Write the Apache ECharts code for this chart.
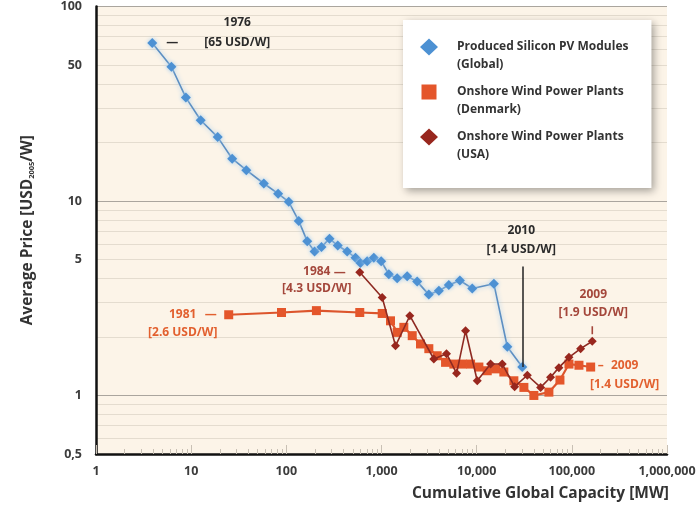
<!DOCTYPE html>
<html>
<head>
<meta charset="utf-8">
<script src="https://cdn.jsdelivr.net/npm/echarts@6/dist/echarts.min.js"></script>
<style>
  html, body { margin: 0; padding: 0; background: #fff; }
  #chart { width: 699px; height: 508px; }
</style>
</head>
<body>
<div id="chart"></div>
<script>
// cumulative capacity [MW] and price [USD2005/W]
const pvCapacity = [3.9, 6.2, 8.8, 12.6, 19, 27, 38, 58, 82, 106, 135, 166, 198, 234, 284, 347, 436, 533, 601, 707, 830, 993, 1194, 1462, 1863, 2373, 3143, 4005, 5100, 6660, 8990, 15170, 20980, 30140]
const pvPrice = [65, 49, 34, 26, 21.3, 16.5, 14.4, 12.3, 10.9, 9.9, 7.9, 6.2, 5.5, 5.8, 6.4, 5.9, 5.5, 5.1, 4.8, 4.9, 5.1, 4.9, 4.2, 4.0, 4.1, 3.85, 3.3, 3.45, 3.7, 3.9, 3.55, 3.75, 1.78, 1.4]

const dkCapacity = [24.8, 89, 207, 591, 1017, 1244, 1462, 1716, 2103, 2570, 3143, 3850, 4710, 5755, 7050, 8630, 10550, 12920, 15800, 19300, 24600, 31350, 39900, 57400, 75000, 93300, 118800, 157700]
const dkPrice = [2.6, 2.67, 2.73, 2.67, 2.64, 2.42, 2.11, 2.24, 2.03, 1.84, 1.74, 1.6, 1.48, 1.45, 1.45, 1.45, 1.4, 1.34, 1.37, 1.32, 1.19, 1.1, 1.0, 1.04, 1.2, 1.45, 1.43, 1.4]

const usCapacity = [591, 1017, 1404, 1985, 3548, 4820, 6150, 7640, 10140, 14000, 18580, 25050, 34040, 47000, 59800, 73100, 93300, 123700, 164000]
const usPrice = [4.3, 3.19, 1.8, 2.57, 1.54, 1.64, 1.3, 2.15, 1.19, 1.45, 1.45, 1.11, 1.27, 1.1, 1.24, 1.39, 1.57, 1.74, 1.9]

const legendLabels = {
  pv: 'Produced Silicon PV Modules\n(Global)',
  dk: 'Onshore Wind Power Plants\n(Denmark)',
  us: 'Onshore Wind Power Plants\n(USA)'
}

// axis ticks
const xDecades = [1, 10, 100, 1000, 10000, 100000, 1000000]
const minorSteps = [2, 3, 4, 5, 6, 7, 8, 9]
const yLabels = [0.5, 1, 5, 10, 50, 100]
const yGridLines = [0.5, 0.6, 0.7, 0.8, 0.9, 1, 2, 3, 4, 5, 6, 7, 8, 9, 10, 20, 30, 40, 50, 60, 70, 80, 90, 100]
const yMajor = [1, 10, 100]

const xMinor = []
xDecades.slice(0, -1).forEach(d => minorSteps.forEach(s => xMinor.push(d * s)))

const FONT = 'Open Sans'
const pair = (xs, ys) => xs.map((x, i) => [x, ys[i]])

// legend icons: symbol on the first text line, invisible corner dots fix the box
const corner = ' M0,0 L0.01,0 L0,0.01 Z M32,34 L31.99,34 L32,33.99 Z'
const diamondIcon = 'path://M9,0 L18,8.5 L9,17 L0,8.5 Z' + corner
const squareIcon = 'path://M1.5,1 L16.5,1 L16.5,16 L1.5,16 Z' + corner

const annot = (coord, offset, text, color, lh, rich) => ({
  coord: coord,
  symbolSize: 0,
  label: {
    show: true, position: 'inside', offset: offset, formatter: text,
    color: color, fontFamily: FONT, fontSize: 12, fontWeight: 'bold',
    lineHeight: lh || 19, align: 'center', verticalAlign: 'middle',
    rich: rich || {}
  }
})

const C_DARK = '#2b2b2b'
const C_US = '#a4473b'
const C_DK = '#e2602f'

const chart = echarts.init(document.getElementById('chart'))

const option = {
  animation: false,
  backgroundColor: '#fff',
  grid: {
    left: 96, right: 32, top: 5, bottom: 54,
    show: true, backgroundColor: '#fcf4e8', borderWidth: 0
  },
  legend: {
    orient: 'vertical',
    left: 403, top: 20,
    backgroundColor: '#fff',
    padding: [18, 23, 25, 17],
    itemGap: 10,
    itemWidth: 32, itemHeight: 34,
    shadowColor: 'rgba(0,0,0,0.35)', shadowBlur: 8, shadowOffsetX: 3, shadowOffsetY: 3,
    itemStyle: { borderWidth: 0 },
    textStyle: { fontFamily: FONT, fontSize: 12, fontWeight: 'bold', color: '#333', lineHeight: 17.5 },
    data: [
      { name: 'pv', icon: diamondIcon },
      { name: 'dk', icon: squareIcon },
      { name: 'us', icon: diamondIcon }
    ],
    formatter: name => legendLabels[name]
  },
  xAxis: [
    {
      type: 'log', min: 1, max: 1000000,
      axisLine: { lineStyle: { color: '#111', width: 2.5 } },
      axisTick: { inside: true, length: 9, customValues: xDecades, lineStyle: { color: '#c8c0b4' } },
      axisLabel: {
        customValues: xDecades, margin: 11,
        fontFamily: FONT, fontSize: 12.5, fontWeight: 'bold', color: '#3c3c3c',
        formatter: v => Math.round(v).toLocaleString('en-US')
      },
      splitLine: { show: false },
      name: 'Cumulative Global Capacity [MW]',
      nameLocation: 'end', nameGap: 2,
      nameTextStyle: {
        fontFamily: FONT, fontSize: 15.5, fontWeight: 'bold', color: '#333',
        align: 'right', verticalAlign: 'top', padding: [32, 0, 0, 0]
      }
    },
    {
      type: 'log', min: 1, max: 1000000, position: 'bottom',
      axisLine: { show: false },
      axisTick: { inside: true, length: 5, customValues: xMinor, lineStyle: { color: '#c8c0b4' } },
      axisLabel: { show: false },
      splitLine: { show: false }
    }
  ],
  yAxis: {
    type: 'log', min: 0.5, max: 100,
    axisLine: { show: true, lineStyle: { color: '#111', width: 2.5 } },
    axisTick: { show: false, customValues: yGridLines },
    axisLabel: {
      customValues: yLabels, margin: 14,
      fontFamily: FONT, fontSize: 12.5, fontWeight: 'bold', color: '#3c3c3c',
      formatter: v => v < 1 ? String(v).replace('.', ',') : String(Math.round(v))
    },
    splitLine: {
      show: true,
      lineStyle: { width: 1.2, color: yGridLines.map(v => yMajor.includes(v) ? '#aaa59e' : '#e4dccf') }
    },
    name: 'Average Price [USD{sub|2005}/W]',
    nameLocation: 'middle', nameGap: 60,
    nameTextStyle: {
      fontFamily: FONT, fontSize: 15.5, fontWeight: 'bold', color: '#333',
      rich: { sub: { fontFamily: FONT, fontSize: 7.5, fontWeight: 'bold', color: '#333', verticalAlign: 'bottom', padding: [7, 0, 0, 0] } }
    }
  },
  series: [
    {
      name: 'pv', type: 'line', xAxisIndex: 0,
      data: pair(pvCapacity, pvPrice),
      symbol: 'diamond', symbolSize: 10,
      itemStyle: { color: '#4d91d3', borderWidth: 0, shadowBlur: 4, shadowColor: '#a9d0f0' },
      lineStyle: { color: '#5d8fc2', width: 1.6, shadowBlur: 5, shadowColor: '#9fcaee' },
      z: 3,
      markPoint: {
        data: [
          annot([pvCapacity[0], pvPrice[0]], [20, 0], '—', C_DARK),
          annot([pvCapacity[0], pvPrice[0]], [85, -10], '1976\n[65 USD/W]', C_DARK, 20),
          annot([pvCapacity[pvCapacity.length - 1], pvPrice[pvPrice.length - 1]], [-1, -127], '2010\n[1.4 USD/W]', C_DARK)
        ]
      },
      markLine: {
        symbol: 'none', silent: true,
        label: { show: false },
        lineStyle: { color: '#222', width: 1.5, type: 'solid' },
        data: [[
          { coord: [pvCapacity[pvCapacity.length - 1], 4.6] },
          { coord: [pvCapacity[pvCapacity.length - 1], pvPrice[pvPrice.length - 1]] }
        ]]
      }
    },
    {
      name: 'dk', type: 'line', xAxisIndex: 0,
      data: pair(dkCapacity, dkPrice),
      symbol: 'rect', symbolSize: 9,
      itemStyle: { color: '#e4562b', borderWidth: 0 },
      lineStyle: { color: '#dc552c', width: 2.2 },
      z: 4,
      markPoint: {
        data: [
          annot([dkCapacity[0], dkPrice[0]], [-18, 0], '—', C_DK),
          annot([dkCapacity[0], dkPrice[0]], [-46, 9], '1981\n[2.6 USD/W]', C_DK, 17.5),
          annot([dkCapacity[dkCapacity.length - 1], dkPrice[dkPrice.length - 1]], [10, -1], '–', C_DK),
          annot([dkCapacity[dkCapacity.length - 1], dkPrice[dkPrice.length - 1]], [34, 8], '2009\n[1.4 USD/W]', C_DK, 19.5)
        ]
      }
    },
    {
      name: 'us', type: 'line', xAxisIndex: 0,
      data: pair(usCapacity, usPrice),
      symbol: 'diamond', symbolSize: 9,
      itemStyle: { color: '#98271e', borderWidth: 0 },
      lineStyle: { color: '#8e2a22', width: 1.6 },
      z: 5,
      markPoint: {
        data: [
          annot([usCapacity[0], usPrice[0]], [-20, 0], '—', C_US),
          annot([usCapacity[0], usPrice[0]], [-43, 8], '1984\n[4.3 USD/W]', C_US, 16.5),
          annot([usCapacity[usCapacity.length - 1], usPrice[usPrice.length - 1]], [1, -38], '2009\n[1.9 USD/W]', C_US, 18),
          annot([usCapacity[usCapacity.length - 1], usPrice[usPrice.length - 1]], [0, -11], '{bar|}', C_US, 8,
            { bar: { width: 1.6, height: 8, backgroundColor: C_US } })
        ]
      }
    }
  ]
}

chart.setOption(option)
window.addEventListener('resize', () => chart.resize())
</script>
</body>
</html>
